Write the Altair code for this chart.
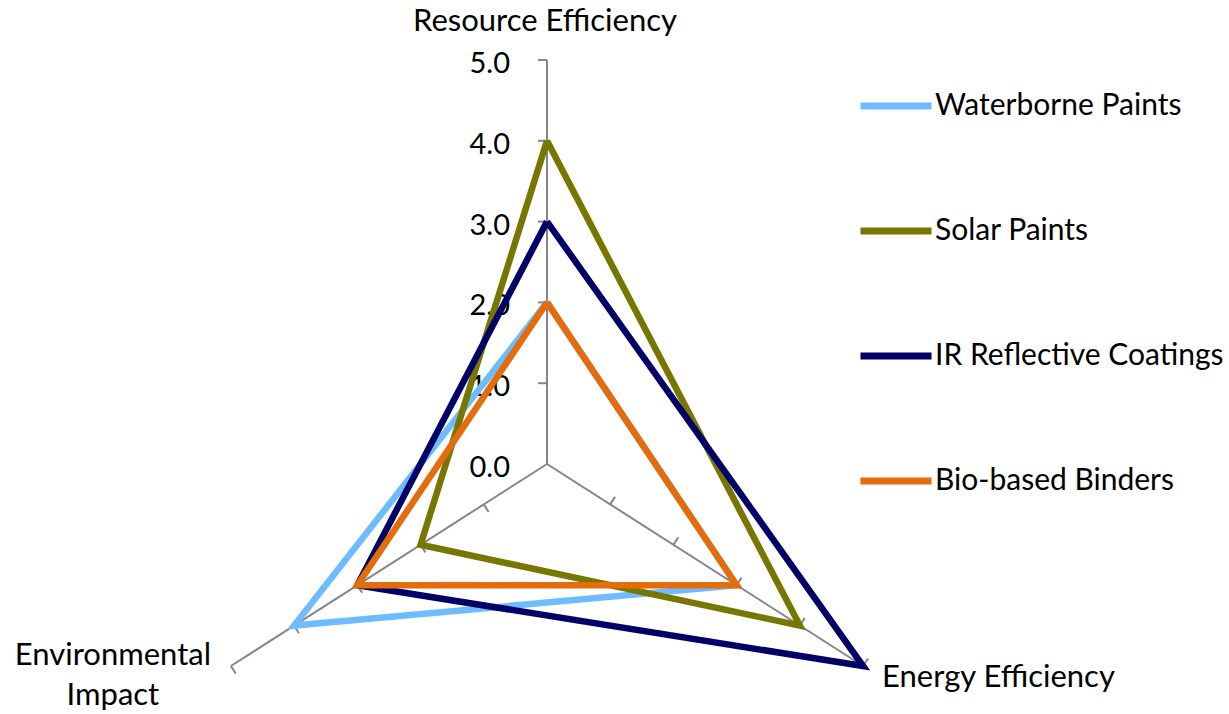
import altair as alt
import pandas as pd
import numpy as np

# ---- data ----
series = ["Waterborne Paints", "Solar Paints", "IR Reflective Coatings", "Bio-based Binders"]
colors = ["#6DBCFF", "#777700", "#000066", "#E46C0A"]
categories = ["Resource Efficiency", "Energy Efficiency", "Environmental Impact"]
resource = [2, 4, 3, 2]
energy = [3, 4, 5, 3]
environmental = [4, 2, 3, 3]
tick_values = [0, 1, 2, 3, 4, 5]
tick_labels = ["0.0", "1.0", "2.0", "3.0", "4.0", "5.0"]
axis_angles = [90, -30, 210]  # degrees, one per category

# ---- layout constants ----
W, H = 1229, 714
CX, CY = 547, 464          # centre in pixels
UX, UY = 73.0, 80.8        # pixels per unit
FONT = "Lato"
FS = 29                    # tick labels
FSL = 31                   # category labels
FSLEG = 30                 # legend labels
RMAX = 5

xscale = alt.Scale(domain=[-CX / UX, (W - CX) / UX], nice=False, zero=False)
yscale = alt.Scale(domain=[-(H - CY) / UY, CY / UY], nice=False, zero=False)

# series polygons
rows = []
for i, s in enumerate(series):
    vals = [resource[i], energy[i], environmental[i], resource[i]]
    for k, v in enumerate(vals):
        rows.append(dict(series=s, order=k, cat=categories[k % 3], value=v, angle=axis_angles[k % 3]))
df_lines = pd.DataFrame(rows)

# spokes
df_spokes = pd.DataFrame(dict(cat=categories, angle=axis_angles, r=[RMAX] * 3))

# tick marks along spokes (9 px long, perpendicular, on the counter-clockwise side)
trows = []
for a in axis_angles:
    ar = np.deg2rad(a)
    dx_px, dy_px = UX * np.cos(ar), UY * np.sin(ar)
    n = np.hypot(dx_px, dy_px)
    px, py = -dy_px / n, dx_px / n
    for r in tick_values[1:]:
        x0, y0 = r * np.cos(ar), r * np.sin(ar)
        trows.append(dict(x=x0, y=y0, x2=x0 + 9 * px / UX, y2=y0 + 9 * py / UY))
df_ticks = pd.DataFrame(trows)

df_ticklabels = pd.DataFrame(dict(v=tick_values, label=tick_labels))

X = lambda f: alt.X(f, type="quantitative", scale=xscale, axis=None)
Y = lambda f: alt.Y(f, type="quantitative", scale=yscale, axis=None)

spokes = alt.Chart(df_spokes).transform_calculate(
    x0="0", y0="0",
    x1="datum.r*cos(datum.angle*PI/180)", y1="datum.r*sin(datum.angle*PI/180)",
).mark_rule(color="#868686", strokeWidth=2).encode(
    x=X("x0"), y=Y("y0"), x2="x1:Q", y2="y1:Q"
)

ticks = alt.Chart(df_ticks).mark_rule(color="#868686", strokeWidth=2).encode(
    x=X("x"), y=Y("y"), x2="x2:Q", y2="y2:Q"
)

tick_text = alt.Chart(df_ticklabels).transform_calculate(x0="0").mark_text(
    align="right", baseline="middle", dx=-37, dy=4, font=FONT, fontSize=FS, color="black"
).encode(x=X("x0"), y=Y("v"), text="label:N")

lines = alt.Chart(df_lines).transform_calculate(
    x="datum.value*cos(datum.angle*PI/180)", y="datum.value*sin(datum.angle*PI/180)"
).mark_line(strokeWidth=6.5, strokeJoin="miter", strokeCap="butt").encode(
    x=X("x"), y=Y("y"),
    color=alt.Color("series:N", scale=alt.Scale(domain=series, range=colors),
                    legend=alt.Legend(title=None, orient="none", legendX=857, legendY=67,
                                      symbolType="stroke", symbolSize=5041, symbolStrokeWidth=7,
                                      labelFont=FONT, labelFontSize=FSLEG, labelColor="black",
                                      labelLimit=0, labelOffset=0, rowPadding=71,
                                      symbolOffset=0, padding=0)),
    order="order:Q",
)

def cat_label(idx, align, dx, dy):
    d = pd.DataFrame(dict(cat=[categories[idx]], angle=[axis_angles[idx]], r=[RMAX]))
    return alt.Chart(d).transform_calculate(
        x="datum.r*cos(datum.angle*PI/180)", y="datum.r*sin(datum.angle*PI/180)",
        txt="datum.cat == 'Environmental Impact' ? ['Environmental', 'Impact'] : datum.cat",
    ).mark_text(align=align, baseline="middle", dx=dx, dy=dy, font=FONT, fontSize=FSL,
                color="black", lineHeight=40).encode(x=X("x"), y=Y("y"), text="txt:N")

lab_res = cat_label(0, "center", -2, -38)
lab_en = cat_label(1, "left", 19, 12)
lab_env = cat_label(2, "center", -118, -10)

chart = alt.layer(spokes, ticks, tick_text, lines, lab_res, lab_en, lab_env).properties(
    width=W, height=H, autosize=alt.AutoSizeParams(type="none"), padding=0, background="white"
).configure_view(stroke=None)

chart.save("out.html", embed_options={"renderer": "svg", "actions": False})
